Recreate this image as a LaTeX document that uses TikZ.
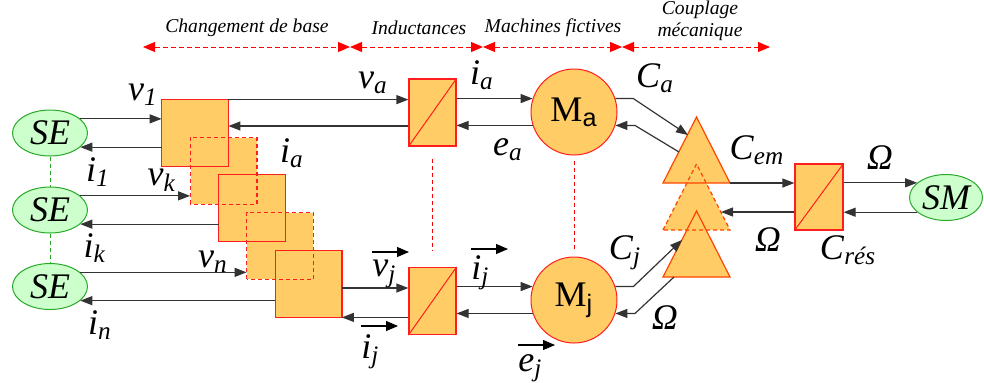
\documentclass[tikz,border=0pt]{standalone}
\usepackage{fontspec}
\setmainfont{Liberation Serif}
\newfontfamily\sansf{Liberation Sans}
\usetikzlibrary{arrows.meta,shapes.geometric}
\definecolor{boxfill}{RGB}{255,204,102}
\definecolor{boxline}{RGB}{255,30,30}
\definecolor{triline}{RGB}{255,70,0}
\definecolor{sefill}{RGB}{204,255,204}
\definecolor{seline}{RGB}{40,170,40}
\newcommand{\lab}[2]{\textit{#1}\textsubscript{\textit{#2}}}

\begin{document}
\begin{tikzpicture}[x=0.5pt,y=-0.5pt,
  arr/.style={draw=black!80, line width=0.6pt, -{Triangle[length=6pt,width=4.5pt]}},
  varr/.style={draw=black, line width=0.6pt, -{Triangle[length=6pt,width=5pt]}},
  hdr/.style={red, dash pattern=on 2.5pt off 1.5pt, line width=0.5pt,
    {Triangle[length=6pt,width=5pt]}-{Triangle[length=6pt,width=5pt]}},
  dsh/.style={dash pattern=on 2pt off 1.5pt},
  se/.style={ellipse, draw=seline, fill=sefill, line width=0.5pt, minimum width=37.5pt,
    minimum height=23pt, inner sep=0pt, font=\fontsize{18}{20}\selectfont\itshape},
  cob/.style={fill=boxfill, minimum size=33pt, inner sep=0pt},
  ind/.style={draw=boxline, fill=boxfill, line width=0.6pt, minimum width=23.5pt,
    minimum height=33.5pt, inner sep=0pt},
  mach/.style={circle, draw=boxline, fill=boxfill, line width=0.5pt, minimum size=43pt,
    inner sep=0pt, font=\fontsize{18}{20}\selectfont},
  lbl/.style={font=\fontsize{18}{20}\selectfont, inner sep=0pt},
  head/.style={font=\fontsize{9.8}{11}\selectfont\itshape, inner sep=0pt, align=center},
  sep/.style={red, dash pattern=on 2pt off 1.5pt, line width=0.4pt}]

  \useasboundingbox (0,0) rectangle (984,382);

  % headings
  \foreach \n/\x in {h0/143,h1/350,h2/483,h3/622,h4/770} \coordinate (\n) at (\x,47);
  \foreach \a/\b in {h0/h1,h1/h2,h2/h3,h3/h4} \draw[hdr] (\a) -- (\b);
  \node[head] (tbase) at (247,28) {Changement de base};
  \node[head] (tind) at (419,28) {Inductances};
  \node[head] (tmach) at (553,28) {Machines fictives};
  \node[head] (tcoup) at (700,21) {Couplage\\mécanique};

  % sources
  \node[se] (se1) at (50,133) {SE};
  \node[se] (se2) at (50,210) {SE};
  \node[se] (se3) at (50,286.5) {SE};
  \node[se, minimum width=36.5pt] (sm) at (946,197.5) {SM};
  \draw[seline, dsh, line width=0.4pt] (se1.south) -- (se2.north);
  \draw[seline, dsh, line width=0.4pt] (se2.south) -- (se3.north);

  % changement de base
  \foreach \i/\x/\y in {1/195/133,2/223.5/171,3/252/208,4/280/246,5/308.5/284}
    \node[cob] (b\i) at (\x,\y) {};
  \foreach \i/\s in {1/solid,2/dsh,3/solid,4/dsh,5/solid}
    \draw[boxline, line width=0.6pt, \s] (b\i.south west) rectangle (b\i.north east);

  % inductances
  \node[ind] (la) at (432.5,112.5) {};
  \node[ind] (lj) at (432.5,301) {};
  \node[ind, minimum width=24pt, minimum height=33pt] (lm) at (819,197) {};
  \foreach \n in {la,lj,lm} \draw[boxline, line width=0.5pt] (\n.south west) -- (\n.north east);
  \draw[sep] ([yshift=-6pt]la.south) -- ([yshift=8pt]lj.north);

  % machines
  \node[mach] (ma) at (574,112) {M\textsubscript{\sansf a}};
  \node[mach] (mj) at (574,300) {M\textsubscript{\sansf j}};
  \draw[sep] ([yshift=-2.5pt]ma.south) -- ([yshift=2.5pt]mj.north);

  % couplage
  \foreach \n/\y in {t1/183,t2/230,t3/277} \coordinate (\n) at (696.5,\y);
  \foreach \t in {t1,t2,t3} \fill[boxfill] (\t) ++(-33.5,0) -- ++(33.5,-66) -- ++(33.5,66) -- cycle;
  \foreach \t/\s in {t1/solid,t2/dsh,t3/solid}
    \draw[triline, line width=0.6pt, \s] (\t) ++(-33.5,0) -- ++(33.5,-66) -- ++(33.5,66) -- cycle;
  \coordinate (ca-in) at (688,135);
  \coordinate (ca-out) at (679,152);
  \coordinate (cj-in) at (682,240);
  \coordinate (cj-out) at (674,277);
  \coordinate (t1r) at (730,183);
  \coordinate (t2r) at (721,212);

  % connectors
  \draw[arr] (se1.25) -- (b1.west |- se1.25);
  \draw[arr] (b1.west |- se1.-25) -- (se1.-25);
  \draw[arr] (se2.25) -- (b2.west |- se2.25);
  \draw[arr] (b3.west |- se2.-25) -- (se2.-25);
  \draw[arr] (se3.25) -- (b4.west |- se3.25);
  \draw[arr] (b5.west |- se3.-25) -- (se3.-25);
  \draw[arr] (b1.north east) -- (la.west |- b1.north east);
  \draw[arr] (la.west |- 0,126) -- (b1.east |- 0,126);
  \draw[arr] (b5.east |- 0,288) -- (lj.west |- 0,288);
  \draw[arr] (lj.west |- b5.south) -- (b5.south east);
  \draw[arr] (la.east |- ma.162) -- (ma.162);
  \draw[arr] (ma.198) -- (la.east |- ma.198);
  \draw[arr] (lj.east |- mj.162) -- (mj.162);
  \draw[arr] (mj.198) -- (lj.east |- mj.198);
  \draw[arr] (ma.18) -- ++(18,0) -- (ca-in);
  \draw[arr] (ca-out) -- (635,0 |- ma.-18) -- (ma.-18);
  \draw[arr] (mj.18) -- ++(18,0) -- (cj-in);
  \draw[arr] (cj-out) -- (635,0 |- mj.-18) -- (mj.-18);
  \draw[arr] (t1r) -- (lm.west |- t1r);
  \draw[arr] (lm.west |- t2r) -- (t2r);
  \draw[arr] (lm.east |- sm.153) -- (sm.153);
  \draw[arr] (sm.207) -- (lm.east |- sm.207);

  % labels
  \node[lbl] (nv1) at (143,95) {\lab{v}{1}};
  \node[lbl] (ni1) at (98,172) {\lab{i}{1}};
  \node[lbl] (nvk) at (162,180) {\lab{v}{k}};
  \node[lbl] (nik) at (95,248) {\lab{i}{k}};
  \node[lbl] (nvn) at (213,262) {\lab{v}{n}};
  \node[lbl] (nin) at (100,325) {\lab{i}{n}};
  \node[lbl] (nva) at (373,83) {\lab{v}{a}};
  \node[lbl] (nia1) at (292,153) {\lab{i}{a}};
  \node[lbl] (nia2) at (482,75) {\lab{i}{a}};
  \node[lbl] (nea) at (508,150) {\lab{e}{a}};
  \node[lbl] (nca) at (655,78) {\lab{C}{a}};
  \node[lbl] (ncj) at (625,253) {\lab{C}{j}};
  \node[lbl] (nom1) at (665,318) {\textit{Ω}};
  \node[lbl] (ncem) at (757,150) {\lab{C}{em}};
  \node[lbl] (nom2) at (768,240) {\textit{Ω}};
  \node[lbl] (nom3) at (880,158) {\textit{Ω}};
  \node[lbl] (ncres) at (848,250) {\lab{C}{rés}};

  % vector labels
  \node[lbl, anchor=north west] (nvj) at (372,260) {\lab{v}{j}};
  \node[lbl, anchor=north west] (nij1) at (361,334) {\lab{i}{j}};
  \node[lbl, anchor=north west] (nij2) at (471,255) {\lab{i}{j}};
  \node[lbl, anchor=north west] (nej) at (518,354) {\lab{e}{j}};
  \foreach \n/\d in {nvj/8,nij1/8,nij2/6,nej/9}
    \draw[varr] (\n.north west) ++(0,-\d) -- ++(37,0);
\end{tikzpicture}
\end{document}
